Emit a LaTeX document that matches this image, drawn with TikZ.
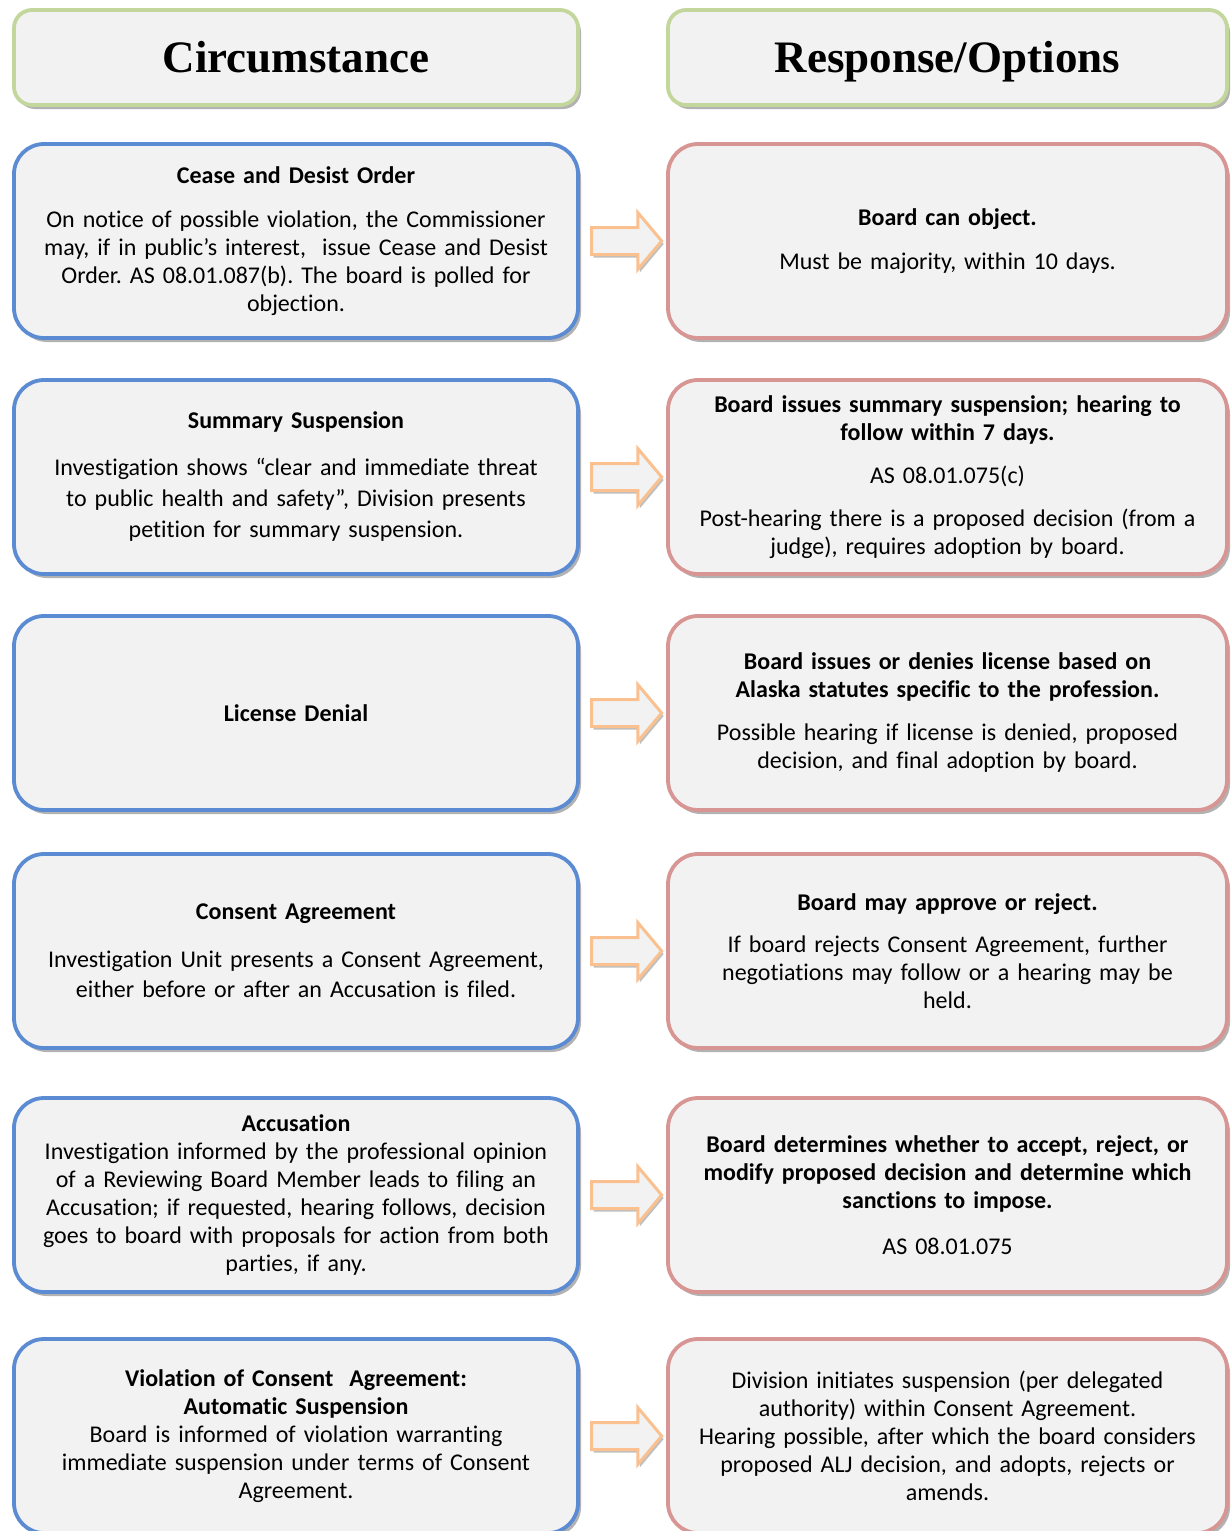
\documentclass[tikz,border=0pt]{standalone}
\usepackage{fontspec}
\setmainfont{Carlito}[Ligatures=NoCommon]
\newfontfamily\headfont{Liberation Serif}
\usetikzlibrary{shapes.arrows,shadows,calc}
\definecolor{boxfill}{HTML}{F2F2F2}
\definecolor{bluebd}{HTML}{5B8BD3}
\definecolor{redbd}{HTML}{D79593}
\definecolor{greenbd}{HTML}{C3D69B}
\definecolor{orangebd}{HTML}{FAC08F}
\frenchspacing
\begin{document}
\begin{tikzpicture}[x=1pt,y=-1pt,
  base/.style={fill=boxfill, rounded corners=30pt, line width=3.8pt, align=center,
    font=\fontsize{24}{28}\selectfont, inner sep=0pt,
    drop shadow={shadow xshift=3pt, shadow yshift=-4pt, opacity=0.3, fill=black}},
  leftbox/.style={base, draw=bluebd, minimum width=564pt, minimum height=194pt, text width=550pt},
  rightbox/.style={base, draw=redbd, minimum width=559pt, minimum height=194pt, text width=550pt},
  headbox/.style={base, draw=greenbd, rounded corners=18pt, minimum height=95pt,
    text height=34pt, text depth=5pt,
    font=\headfont\bfseries\fontsize{45}{50}\selectfont},
  blockarrow/.style={single arrow, draw=orangebd, fill=boxfill, line width=3pt,
    inner xsep=0pt, inner ysep=12pt, text height=0pt, text depth=0pt,
    single arrow head extend=15pt, single arrow tip angle=100, minimum height=70pt,
    drop shadow={shadow xshift=2pt, shadow yshift=-3pt, opacity=0.25, fill=black}}
]
\path[use as bounding box, clip] (0,0) rectangle (1231,1531);

\node[headbox, minimum width=564pt] (H1) at (296,57.5) {Circumstance};
\node[headbox, minimum width=559pt] (H2) at (947.5,57.5) {Response/Options};

% Row 1
\node[leftbox] (L1) at (296,241) {\textbf{Cease and Desist Order}\\[16pt]
  On notice of possible violation, the Commissioner\\
  may, if in public’s interest,\ \ issue Cease and Desist\\
  Order. AS 08.01.087(b). The board is polled for\\
  objection.};
\node[rightbox] (R1) at (947.5,241) {\textbf{Board can object.}\\[16pt]
  Must be majority, within 10 days.};

% Row 2
\node[leftbox] (L2) at (296,477) {\textbf{Summary Suspension}\\[19pt]
  Investigation shows “clear and immediate threat\\[3pt]
  to public health and safety”, Division presents\\[3pt]
  petition for summary suspension.};
\node[rightbox] (R2) at (947.5,477) {\textbf{Board issues summary suspension; hearing to}\\
  \textbf{follow within 7 days.}\\[15pt]
  AS 08.01.075(c)\\[15pt]
  Post-hearing there is a proposed decision (from a\\
  judge), requires adoption by board.};

% Row 3
\node[leftbox] (L3) at (296,713) {\textbf{License Denial}};
\node[rightbox] (R3) at (947.5,713) {\textbf{Board issues or denies license based on}\\
  \textbf{Alaska statutes specific to the profession.}\\[15pt]
  Possible hearing if license is denied, proposed\\
  decision, and final adoption by board.};

% Row 4
\node[leftbox] (L4) at (296,951) {\textbf{Consent Agreement}\\[20pt]
  Investigation Unit presents a Consent Agreement,\\[2pt]
  either before or after an Accusation is filed.};
\node[rightbox] (R4) at (947.5,951) {\textbf{Board may approve or reject.}\\[14pt]
  If board rejects Consent Agreement, further\\
  negotiations may follow or a hearing may be\\
  held.};

% Row 5
\node[leftbox] (L5) at (296,1195) {\textbf{Accusation}\\
  Investigation informed by the professional opinion\\
  of a Reviewing Board Member leads to filing an\\
  Accusation; if requested, hearing follows, decision\\
  goes to board with proposals for action from both\\
  parties, if any.};
\node[rightbox] (R5) at (947.5,1195) {\textbf{Board determines whether to accept, reject, or}\\
  \textbf{modify proposed decision and determine which}\\
  \textbf{sanctions to impose.}\\[18pt]
  AS 08.01.075};

% Row 6
\node[leftbox] (L6) at (296,1436) {\textbf{Violation of Consent\ \ Agreement:}\\
  \textbf{Automatic Suspension}\\
  Board is informed of violation warranting\\
  immediate suspension under terms of Consent\\
  Agreement.};
\node[rightbox] (R6) at (947.5,1436) {Division initiates suspension (per delegated\\
  authority) within Consent Agreement.\\
  Hearing possible, after which the board considers\\
  proposed ALJ decision, and adopts, rejects or\\
  amends.};

% Arrows
\foreach \i in {1,...,6}{
  \node[blockarrow] (A\i) at ($(L\i.east)!0.5!(R\i.west)+(-2,0)$) {};
}
\end{tikzpicture}
\end{document}
